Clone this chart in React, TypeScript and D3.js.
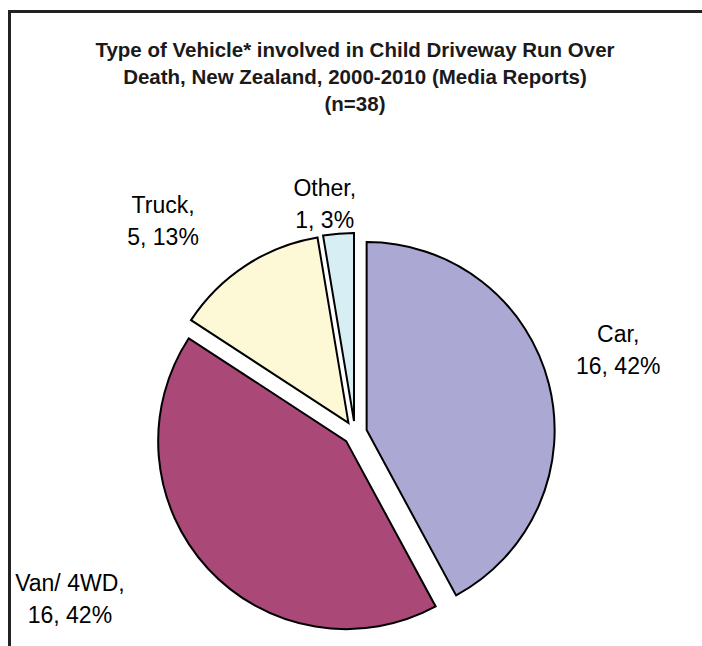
import React, { useEffect, useRef } from 'react';
import * as d3 from 'd3';

const categories = ['Car', 'Van/ 4WD', 'Truck', 'Other'];
const counts = [16, 16, 5, 1];
const percents = ['42%', '42%', '13%', '3%'];
const colors = ['#aba8d3', '#aa4877', '#fdf9d7', '#d8eef5'];
const titleLines = [
  'Type of Vehicle* involved in Child Driveway Run Over',
  'Death, New Zealand, 2000-2010 (Media Reports)',
  '(n=38)'
];
// label placement: distance from centre and angle nudge (deg)
const labelRadius = [276, 330, 286, 231];
const labelAngleNudge = [-3.3, 12.4, -9, -2.8];

const W = 702;
const H = 646;

const App: React.FC = () => {
  const svgRef = useRef<SVGSVGElement>(null);

  useEffect(() => {
    if (!svgRef.current) return;
    const svg = d3.select(svgRef.current);
    svg.selectAll('*').remove();

    const cx = 355;
    const cy = 433;
    const radius = 188;
    const explode = 12;

    // Frame
    svg.append('path')
      .attr('d', `M9.5,${H + 10} L9.5,11.5 L${W + 10},11.5`)
      .attr('fill', 'none')
      .attr('stroke', '#222')
      .attr('stroke-width', 3);

    // Title
    const title = svg.append('text')
      .attr('text-anchor', 'middle')
      .style('font-family', '"Liberation Sans", Arial, sans-serif')
      .style('font-size', '20.5px')
      .style('font-weight', 'bold')
      .style('fill', '#1a1a1a');
    titleLines.forEach((t, i) => {
      title.append('tspan')
        .attr('x', 355)
        .attr('y', 57 + i * 27)
        .text(t);
    });

    const data = categories.map((c, i) => ({ label: c, value: counts[i], pct: percents[i], color: colors[i], i }));

    const pie = d3.pie<typeof data[0]>()
      .value(d => d.value)
      .sort(null);

    const arc = d3.arc<d3.PieArcDatum<typeof data[0]>>()
      .innerRadius(0)
      .outerRadius(radius);

    const g = svg.append('g').attr('transform', `translate(${cx},${cy})`);
    const arcs = pie(data);

    g.selectAll('path.slice')
      .data(arcs)
      .enter().append('path')
      .attr('class', 'slice')
      .attr('transform', d => {
        const mid = (d.startAngle + d.endAngle) / 2;
        return `translate(${Math.sin(mid) * explode},${-Math.cos(mid) * explode})`;
      })
      .attr('d', arc)
      .attr('fill', d => d.data.color)
      .attr('stroke', '#000')
      .attr('stroke-width', 2)
      .attr('stroke-linejoin', 'miter');

    const labels = g.selectAll('text.lbl')
      .data(arcs)
      .enter().append('text')
      .attr('class', 'lbl')
      .attr('text-anchor', 'middle')
      .style('font-family', '"Liberation Sans", Arial, sans-serif')
      .style('font-size', '23px')
      .style('fill', '#000');

    labels.each(function (d) {
      const i = d.data.i;
      const mid = (d.startAngle + d.endAngle) / 2 + (labelAngleNudge[i] * Math.PI) / 180;
      const x = Math.sin(mid) * labelRadius[i];
      const y = -Math.cos(mid) * labelRadius[i];
      const t = d3.select(this);
      t.append('tspan').attr('x', x).attr('y', y - 8).text(`${d.data.label},`);
      t.append('tspan').attr('x', x).attr('y', y + 24).text(`${d.data.value}, ${d.data.pct}`);
    });
  }, []);

  return (
    <svg
      ref={svgRef}
      width={W}
      height={H}
      style={{ position: 'absolute', left: 0, top: 0, background: '#fff' }}
    />
  );
};

export default App;
